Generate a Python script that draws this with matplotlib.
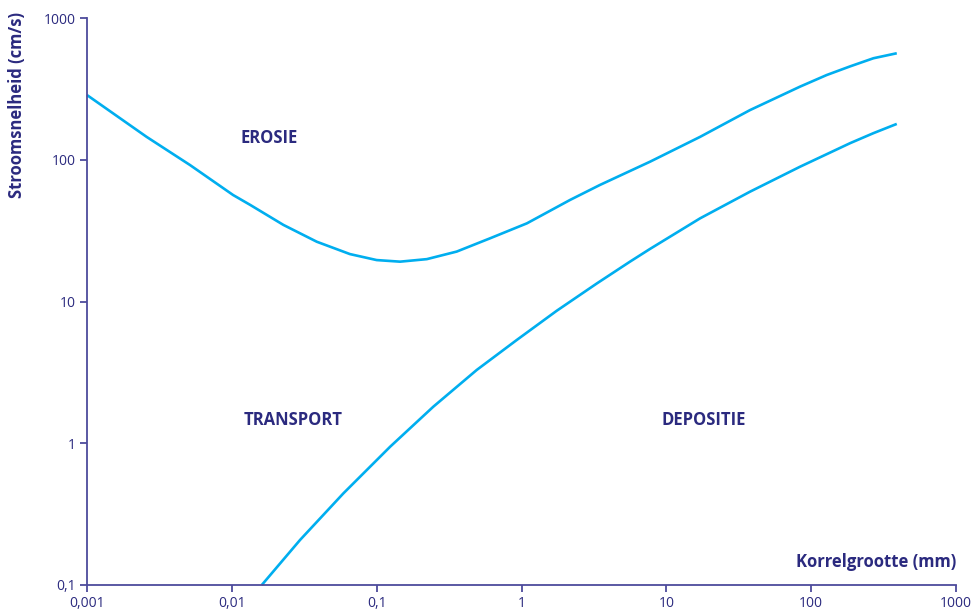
import numpy as np
import matplotlib.pyplot as plt
from matplotlib.ticker import FixedLocator, NullLocator

# Hjulström curve
erosie_x = [0.001, 0.00258, 0.00514, 0.0102, 0.0134, 0.0227, 0.0386, 0.0654, 0.100,
            0.145, 0.222, 0.357, 0.606, 1.09, 2.16, 3.48, 7.72, 17.1, 37.8,
            83.8, 128, 186, 269, 390]
erosie_y = [286, 145, 91.8, 56.4, 48.0, 34.7, 26.4, 21.6, 19.6,
            19.1, 19.9, 22.5, 27.9, 35.6, 52.0, 66.4, 96.9, 145, 224,
            328, 396, 456, 520, 564]

depositie_x = [0.0161, 0.0296, 0.0589, 0.124, 0.246, 0.491, 0.927, 1.75, 3.31,
               5.61, 7.72, 17.1, 37.8, 83.8, 186, 269, 390]
depositie_y = [0.1, 0.208, 0.443, 0.946, 1.81, 3.29, 5.35, 8.6, 13.4,
               19.1, 23.5, 38.6, 59.5, 89.3, 131, 154, 179]

x_ticks = [0.001, 0.01, 0.1, 1, 10, 100, 1000]
x_labels = ['0,001', '0,01', '0,1', '1', '10', '100', '1000']
y_ticks = [0.1, 1, 10, 100, 1000]
y_labels = ['0,1', '1', '10', '100', '1000']

navy = '#2b2a7f'
axis_col = '#4d4b9c'
line_col = '#00aeef'

plt.rcParams['font.family'] = ['Open Sans', 'DejaVu Sans']

fig = plt.figure(figsize=(9.76, 6.1), dpi=100)
ax = fig.add_axes([87/976, 1-585/610, (956-87)/976, (585-18)/610])

ax.plot(erosie_x, erosie_y, color=line_col, lw=1.9, solid_capstyle='butt',
        solid_joinstyle='round', clip_on=False)
ax.plot(depositie_x, depositie_y, color=line_col, lw=1.9, solid_capstyle='butt',
        solid_joinstyle='round', clip_on=False)

ax.set_xscale('log')
ax.set_yscale('log')
ax.set_xlim(0.001, 1000)
ax.set_ylim(0.1, 1000)

ax.xaxis.set_major_locator(FixedLocator(x_ticks))
ax.yaxis.set_major_locator(FixedLocator(y_ticks))
ax.xaxis.set_minor_locator(NullLocator())
ax.yaxis.set_minor_locator(NullLocator())
ax.set_xticklabels(x_labels)
ax.set_yticklabels(y_labels)

for s in ['top', 'right']:
    ax.spines[s].set_visible(False)
for s in ['left', 'bottom']:
    ax.spines[s].set_color(axis_col)
    ax.spines[s].set_linewidth(1.3)
ax.tick_params(colors=axis_col, labelcolor=navy, length=5, width=1.3,
               labelsize=10, pad=3)

ax.text(0.0181, 142, 'EROSIE', color=navy, fontsize=12, fontweight='bold',
        ha='center', va='center')
ax.text(0.0264, 1.46, 'TRANSPORT', color=navy, fontsize=12, fontweight='bold',
        ha='center', va='center')
ax.text(18.2, 1.46, 'DEPOSITIE', color=navy, fontsize=12, fontweight='bold',
        ha='center', va='center')

ax.text(1.0, 0.04, 'Korrelgrootte (mm)', transform=ax.transAxes, color=navy,
        fontsize=12, fontweight='bold', ha='right', va='center')
fig.text(17/976, 1-105/610, 'Stroomsnelheid (cm/s)', rotation=90, color=navy,
         fontsize=12, fontweight='bold', ha='center', va='center')

fig.savefig('out.png', dpi=100)
